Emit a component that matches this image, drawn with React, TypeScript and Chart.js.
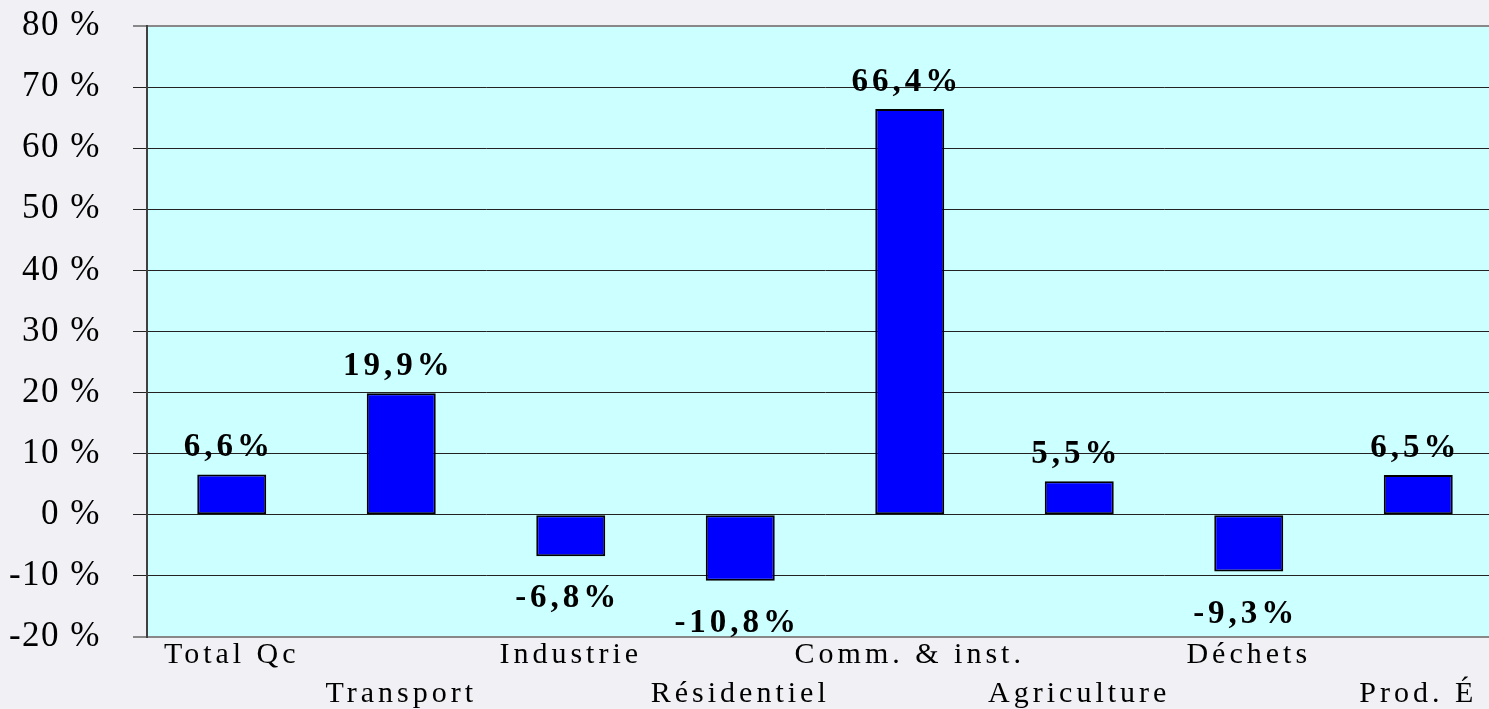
import React, { useEffect, useRef } from 'react';
import { Chart, registerables } from 'chart.js';

Chart.register(...registerables);

const categories = ['Total Qc', 'Transport', 'Industrie', 'Résidentiel', 'Comm. & inst.', 'Agriculture', 'Déchets', 'Prod. É'];
const values = [6.6, 19.9, -6.8, -10.8, 66.4, 5.5, -9.3, 6.5];
const yMin = -20;
const yMax = 80;
const yStep = 10;

const FONT = '"Liberation Serif", "Times New Roman", serif';
const PAGE_BG = '#f0f0f5';
const PLOT_BG = '#ccffff';

function patchSpacing(scale: any, spacing: string) {
  if (!scale || scale.__spacingPatched) return;
  const orig = scale.drawLabels.bind(scale);
  scale.drawLabels = (area: any) => {
    const ctx = scale.ctx as any;
    ctx.save();
    ctx.letterSpacing = spacing;
    orig(area);
    ctx.restore();
  };
  scale.__spacingPatched = true;
}

const stylePlugin = {
  id: 'stylePlugin',
  beforeDraw(chart: any) {
    patchSpacing(chart.scales.x, '4px');
    patchSpacing(chart.scales.y, '1.5px');
    const { ctx, chartArea } = chart;
    ctx.save();
    ctx.fillStyle = PLOT_BG;
    ctx.fillRect(chartArea.left, chartArea.top, chartArea.right - chartArea.left, chartArea.bottom - chartArea.top);
    ctx.restore();
  },
  afterDatasetsDraw(chart: any) {
    const ctx = chart.ctx as any;
    const meta = chart.getDatasetMeta(0);
    const data = chart.data.datasets[0].data as number[];
    ctx.save();
    ctx.font = `bold 33px ${FONT}`;
    ctx.letterSpacing = '4px';
    ctx.fillStyle = '#000';
    ctx.textAlign = 'center';
    ctx.textBaseline = 'alphabetic';
    meta.data.forEach((el: any, i: number) => {
      const v = data[i];
      const text = v.toFixed(1).replace('.', ',') + '%';
      const y = v >= 0 ? el.y - 18 : el.y + 51;
      ctx.fillText(text, el.x - 3, y);
    });
    ctx.restore();
  },
};

export default function App() {
  const canvasRef = useRef<HTMLCanvasElement | null>(null);

  useEffect(() => {
    document.body.style.margin = '0';
    document.body.style.overflow = 'hidden';
    const canvas = canvasRef.current;
    if (!canvas) return;
    const edge = (ctx: any) => {
      const v = ctx.tick?.value;
      return v === yMax || v === yMin;
    };
    const chart = new Chart(canvas, {
      type: 'bar',
      data: {
        labels: categories.map((c, i) => (i % 2 === 0 ? [c] : ['', c])),
        datasets: [
          {
            data: values,
            backgroundColor: '#0000ff',
            borderColor: '#000000',
            borderWidth: 2,
            borderSkipped: false,
            barPercentage: 0.407,
            categoryPercentage: 1,
          },
        ],
      },
      options: {
        responsive: false,
        animation: false,
        maintainAspectRatio: false,
        layout: { padding: 0 },
        plugins: {
          legend: { display: false },
          tooltip: { enabled: false },
          title: { display: false },
        },
        scales: {
          x: {
            grid: { display: false, drawTicks: false },
            border: { display: true, color: '#888888', width: 2 },
            ticks: {
              color: '#000',
              font: { family: FONT, size: 30, lineHeight: '39px' as any },
              padding: -1,
              maxRotation: 0,
              minRotation: 0,
              autoSkip: false,
            },
            afterFit: (s: any) => {
              s.height = 72;
              s.paddingLeft = 0;
              s.paddingRight = 0;
            },
          },
          y: {
            min: yMin,
            max: yMax,
            grid: {
              color: (ctx: any) => (edge(ctx) ? '#888888' : '#222222'),
              lineWidth: (ctx: any) => (edge(ctx) ? 2 : 1),
              tickLength: 14,
              drawTicks: true,
            },
            border: { display: true, color: '#404040', width: 2 },
            ticks: {
              stepSize: yStep,
              color: '#000',
              font: { family: FONT, size: 35 },
              padding: 32,
              callback: (v: any) => `${v} %`,
            },
            afterFit: (s: any) => {
              s.width = 147;
              s.paddingTop = 26;
              s.paddingBottom = 0;
            },
          },
        },
      },
      plugins: [stylePlugin],
    });
    return () => chart.destroy();
  }, []);

  return (
    <div style={{ width: 1489, height: 709, overflow: 'hidden', background: PAGE_BG }}>
      <canvas ref={canvasRef} width={1503} height={709} style={{ display: 'block', width: 1503, height: 709 }} />
    </div>
  );
}
